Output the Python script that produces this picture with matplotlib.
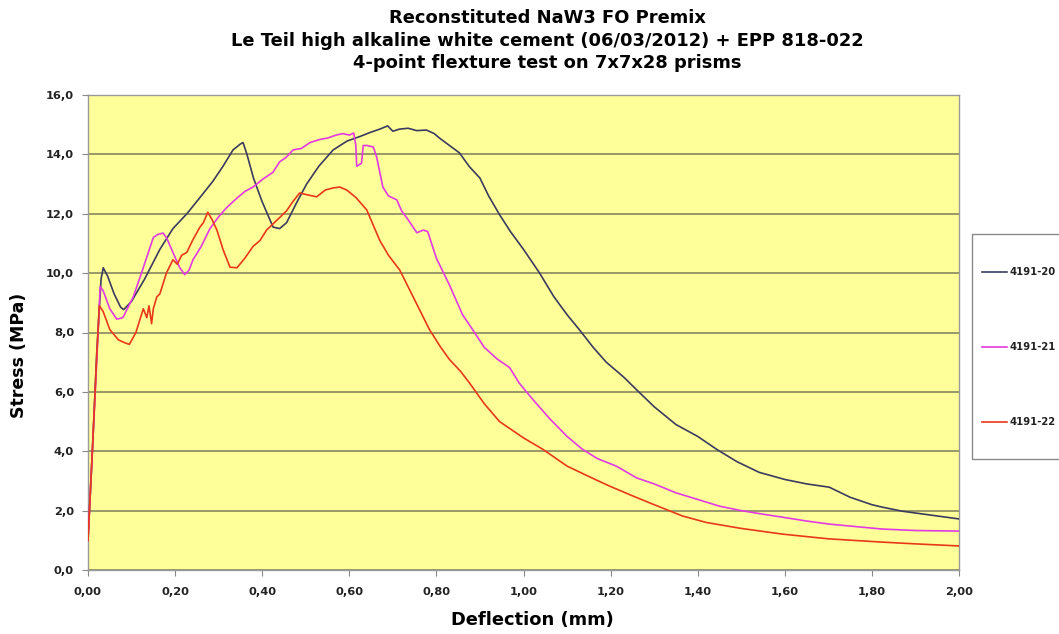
import matplotlib
matplotlib.use("Agg")
import matplotlib.pyplot as plt
from matplotlib.lines import Line2D
from matplotlib.patches import Rectangle

# ---------------- data ----------------
series_names = ["4191-20", "4191-21", "4191-22"]

x20 = [0.000, 0.010, 0.020, 0.030, 0.035, 0.045, 0.060, 0.075, 0.082, 0.100, 0.130, 0.165,
       0.195, 0.227, 0.260, 0.287, 0.310, 0.333, 0.350, 0.356, 0.365, 0.380, 0.400, 0.425,
       0.440, 0.456, 0.480, 0.502, 0.530, 0.563, 0.595, 0.624, 0.650, 0.670, 0.688, 0.700,
       0.715, 0.735, 0.755, 0.777, 0.795, 0.807, 0.830, 0.853, 0.875, 0.900, 0.920, 0.945,
       0.970, 1.000, 1.037, 1.070, 1.100, 1.128, 1.160, 1.190, 1.230, 1.259, 1.300, 1.350,
       1.400, 1.443, 1.490, 1.541, 1.600, 1.650, 1.702, 1.750, 1.800, 1.823, 1.870, 1.920,
       1.960, 2.000]
y20 = [1.0, 4.0, 7.3, 9.8, 10.18, 9.9, 9.3, 8.85, 8.77, 9.05, 9.8, 10.8,
       11.5, 12.0, 12.6, 13.1, 13.6, 14.15, 14.35, 14.4, 14.0, 13.2, 12.4, 11.55,
       11.5, 11.7, 12.4, 13.0, 13.6, 14.15, 14.45, 14.6, 14.75, 14.85, 14.96, 14.78,
       14.85, 14.88, 14.80, 14.82, 14.7, 14.55, 14.3, 14.05, 13.6, 13.2, 12.6, 11.97,
       11.4, 10.8, 10.0, 9.2, 8.6, 8.1, 7.5, 7.0, 6.5, 6.08, 5.5, 4.9,
       4.5, 4.07, 3.65, 3.29, 3.05, 2.9, 2.79, 2.45, 2.2, 2.12, 1.98, 1.88,
       1.8, 1.72]

x21 = [0.000, 0.010, 0.020, 0.028, 0.035, 0.050, 0.066, 0.080, 0.104, 0.125, 0.150, 0.160,
       0.172, 0.180, 0.195, 0.210, 0.222, 0.232, 0.241, 0.260, 0.280, 0.300, 0.318, 0.340,
       0.360, 0.379, 0.400, 0.425, 0.440, 0.455, 0.471, 0.490, 0.510, 0.532, 0.550, 0.570,
       0.585, 0.600, 0.610, 0.615, 0.617, 0.628, 0.632, 0.640, 0.655, 0.663, 0.677, 0.690,
       0.709, 0.720, 0.735, 0.755, 0.770, 0.780, 0.800, 0.830, 0.860, 0.883, 0.910, 0.940,
       0.968, 0.990, 1.021, 1.060, 1.100, 1.135, 1.170, 1.213, 1.260, 1.300, 1.350, 1.397,
       1.450, 1.500, 1.550, 1.594, 1.650, 1.700, 1.750, 1.823, 1.900, 2.000]
y21 = [1.0, 4.0, 7.0, 9.55, 9.4, 8.8, 8.45, 8.5, 9.2, 10.1, 11.2, 11.3,
       11.35, 11.2, 10.7, 10.2, 9.95, 10.1, 10.45, 10.9, 11.5, 11.9, 12.2, 12.5,
       12.75, 12.9, 13.15, 13.4, 13.75, 13.9, 14.15, 14.2, 14.4, 14.5, 14.55, 14.65,
       14.7, 14.65, 14.72, 14.3, 13.6, 13.7, 14.3, 14.3, 14.25, 13.9, 12.9, 12.6,
       12.47, 12.1, 11.8, 11.36, 11.45, 11.4, 10.5, 9.6, 8.6, 8.1, 7.5, 7.1,
       6.82, 6.3, 5.75, 5.1, 4.5, 4.07, 3.75, 3.5, 3.1, 2.9, 2.6, 2.39,
       2.15, 2.0, 1.88, 1.78, 1.65, 1.55, 1.48, 1.38, 1.33, 1.31]

x22 = [0.000, 0.010, 0.020, 0.026, 0.035, 0.050, 0.070, 0.085, 0.095, 0.110, 0.127, 0.135,
       0.140, 0.146, 0.150, 0.158, 0.165, 0.180, 0.195, 0.205, 0.215, 0.227, 0.240, 0.257,
       0.265, 0.275, 0.285, 0.296, 0.310, 0.326, 0.342, 0.360, 0.379, 0.395, 0.410, 0.435,
       0.456, 0.470, 0.486, 0.500, 0.525, 0.545, 0.563, 0.578, 0.594, 0.615, 0.640, 0.670,
       0.690, 0.716, 0.750, 0.784, 0.810, 0.830, 0.855, 0.876, 0.910, 0.945, 1.000, 1.044,
       1.100, 1.150, 1.197, 1.250, 1.300, 1.365, 1.420, 1.500, 1.594, 1.700, 1.823, 1.900,
       2.000]
y22 = [1.0, 4.0, 7.2, 8.9, 8.7, 8.1, 7.75, 7.65, 7.6, 8.0, 8.8, 8.5,
       8.9, 8.3, 8.8, 9.2, 9.3, 10.0, 10.45, 10.3, 10.6, 10.7, 11.1, 11.55,
       11.7, 12.05, 11.8, 11.45, 10.8, 10.2, 10.18, 10.5, 10.9, 11.1, 11.45, 11.8,
       12.1, 12.4, 12.7, 12.65, 12.57, 12.8, 12.87, 12.9, 12.8, 12.55, 12.13, 11.1,
       10.6, 10.1, 9.1, 8.1, 7.5, 7.09, 6.7, 6.3, 5.6, 5.0, 4.45, 4.07,
       3.5, 3.15, 2.83, 2.5, 2.2, 1.82, 1.6, 1.4, 1.21, 1.05, 0.94, 0.88,
       0.81]

x_ticks = [0.0, 0.2, 0.4, 0.6, 0.8, 1.0, 1.2, 1.4, 1.6, 1.8, 2.0]
x_tick_labels = ["0,00", "0,20", "0,40", "0,60", "0,80", "1,00", "1,20", "1,40", "1,60", "1,80", "2,00"]
y_ticks = [0, 2, 4, 6, 8, 10, 12, 14, 16]
y_tick_labels = ["0,0", "2,0", "4,0", "6,0", "8,0", "10,0", "12,0", "14,0", "16,0"]

title_lines = ["Reconstituted NaW3 FO Premix",
               "Le Teil high alkaline white cement (06/03/2012) + EPP 818-022",
               "4-point flexture test on 7x7x28 prisms"]

# ---------------- figure ----------------
W, H = 1059, 634
fig = plt.figure(figsize=(W / 100, H / 100), dpi=100)
fig.patch.set_facecolor("white")

ax_l, ax_r, ax_t, ax_b = 88, 959, 95, 570
ax = fig.add_axes([ax_l / W, 1 - ax_b / H, (ax_r - ax_l) / W, (ax_b - ax_t) / H])
ax.set_facecolor("#FFFF99")

colors = ["#3b3b60", "#e23ae2", "#e8381a"]
data = [(x20, y20), (x21, y21), (x22, y22)]
for (xs, ys), c, name in zip(data, colors, series_names):
    ax.plot(xs, ys, color=c, lw=1.2, label=name, zorder=3)

ax.set_xlim(0, 2.0)
ax.set_ylim(0, 16)
ax.set_xticks(x_ticks)
ax.set_xticklabels(x_tick_labels)
ax.set_yticks(y_ticks)
ax.set_yticklabels(y_tick_labels)

ax.tick_params(axis="x", direction="out", length=4, width=0.8, color="#888888", pad=8)
ax.tick_params(axis="y", direction="out", length=4, width=0.8, color="#888888", pad=6)

ax.yaxis.grid(True, color="#7d7d5c", lw=1.1)
ax.xaxis.grid(False)
ax.set_axisbelow(True)
for s in ax.spines.values():
    s.set_color("#9a9a9a")
    s.set_linewidth(1.0)

xl = ax.set_xlabel("Deflection (mm)", fontsize=11, fontweight="bold", va="center")
yl = ax.set_ylabel("Stress (MPa)", fontsize=11, fontweight="bold", va="center")
ax_w, ax_h = ax_r - ax_l, ax_b - ax_t
ax.xaxis.set_label_coords((532 - ax_l) / ax_w, -(620 - ax_b) / ax_h)
ax.yaxis.set_label_coords((19.5 - ax_l) / ax_w, (ax_b - 355) / ax_h)

title_texts = [fig.text(547 / W, 1 - yy / H, line, ha="center", va="center",
                        fontsize=12, fontweight="bold")
               for line, yy in zip(title_lines, [18, 41, 63])]

# ---------------- legend (boxed, partially outside the figure) ----------------
fig.add_artist(Rectangle((972 / W, 1 - 459 / H), 120 / W, (459 - 234) / H,
                         transform=fig.transFigure, facecolor="white",
                         edgecolor="#8a8a8a", lw=1.0))
entry_y = [272, 347, 422]
leg_texts = []
for name, c, yy in zip(series_names, colors, entry_y):
    fig.add_artist(Line2D([982 / W, 1007 / W], [1 - yy / H, 1 - yy / H],
                          transform=fig.transFigure, color=c, lw=1.2))
    leg_texts.append(fig.text(1010 / W, 1 - yy / H, name, ha="left", va="center",
                              fontsize=8, fontweight="bold", color="#222222"))

# ---------------- size text to match reference widths ----------------
fig.canvas.draw()
r = fig.canvas.get_renderer()

def scale_to(texts, ref, target, use_height=False):
    bb = ref.get_window_extent(r)
    cur = bb.height if use_height else bb.width
    fs = ref.get_fontsize() * target / cur
    for t in texts:
        t.set_fontsize(fs)

scale_to(title_texts, title_texts[1], 628)
scale_to([xl], xl, 162)
scale_to([yl], yl, 125, use_height=True)
scale_to(leg_texts, leg_texts[0], 46)
tick_labs = ax.get_xticklabels() + ax.get_yticklabels()
for lab in tick_labs:
    lab.set_fontweight("bold")
    lab.set_color("#222222")
fig.canvas.draw()
scale_to(tick_labs, ax.get_xticklabels()[5], 28)

fig.savefig("out.png", dpi=100)
